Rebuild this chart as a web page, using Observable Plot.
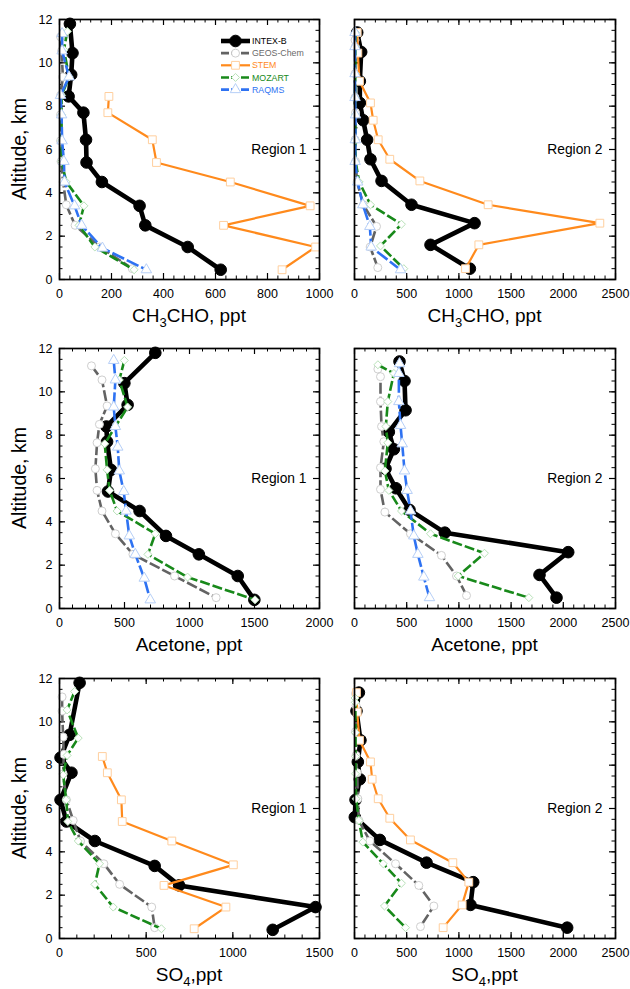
<!DOCTYPE html>
<html><head><meta charset="utf-8">
<script src="https://cdn.jsdelivr.net/npm/d3@7"></script>
<script src="https://cdn.jsdelivr.net/npm/@observablehq/plot@0.6"></script>
<style>
body{margin:0;background:#fff;}
#wrap{position:relative;width:630px;height:989px;background:#fff;font-family:"Liberation Sans",Arial,Helvetica,sans-serif;}
.panel{position:absolute;}
</style></head><body><div id="wrap"></div>
<script>
// ---- data: [altitude km, mixing ratio ppt] ----
const ch3choR1_intex = [[11.8,40],[10.45,50],[9.45,45],[8.45,35],[7.7,92],[6.45,102],[5.4,104],[4.5,163],[3.4,308],[2.5,330],[1.5,493],[0.45,620]];
const ch3choR1_geos  = [[11.2,4],[10.55,8],[9.35,13],[8.5,4],[7.6,4],[6.4,4],[5.45,6],[4.5,14],[3.45,26],[2.5,60],[1.5,155],[0.5,280]];
const ch3choR1_stem  = [[8.45,190],[7.7,186],[6.45,357],[5.4,373],[4.5,657],[3.4,964],[2.5,631],[1.5,985],[0.45,856]];
const ch3choR1_moz   = [[11.45,30],[10.6,17],[9.35,37],[8.5,8],[7.6,8],[6.4,8],[5.45,8],[4.5,26],[3.4,94],[2.5,75],[1.5,136],[0.45,287]];
const ch3choR1_raq   = [[11.35,10],[10.55,10],[9.35,37],[8.5,4],[7.6,8],[6.4,10],[5.45,17],[4.5,19],[3.4,58],[2.5,85],[1.45,165],[0.45,334]];

const ch3choR2_intex = [[11.4,26],[10.5,64],[9.15,51],[8.15,51],[7.35,83],[6.45,121],[5.55,153],[4.55,259],[3.45,546],[2.6,1150],[1.6,728],[0.5,1105]];
const ch3choR2_geos  = [[11.05,5],[10.75,8],[9.5,5],[8.4,5],[7.7,10],[6.45,6],[5.45,10],[4.5,25],[3.45,85],[2.45,211],[1.5,150],[0.55,223]];
const ch3choR2_stem  = [[11.4,26],[10.45,32],[9.15,48],[8.15,153],[7.35,179],[6.45,227],[5.55,338],[4.55,626],[3.45,1280],[2.6,2350],[1.6,1191],[0.5,1063]];
const ch3choR2_moz   = [[11.4,10],[10.75,8],[9.5,8],[8.4,5],[7.6,8],[6.45,8],[5.45,10],[4.5,45],[3.45,153],[2.55,450],[1.55,249],[0.5,472]];
const ch3choR2_raq   = [[11.4,5],[10.75,5],[9.5,5],[8.4,5],[7.6,10],[6.45,8],[5.45,6],[4.5,30],[3.45,80],[2.45,147],[1.5,160],[0.45,441]];

const acetR1_intex = [[11.8,737],[10.4,499],[9.4,524],[8.4,361],[7.7,366],[6.4,396],[5.4,373],[4.5,616],[3.35,819],[2.5,1072],[1.5,1371],[0.4,1499]];
const acetR1_geos  = [[11.2,246],[10.55,327],[9.35,366],[8.5,307],[7.65,289],[6.45,276],[5.45,289],[4.5,327],[3.45,430],[2.5,565],[1.5,885],[0.5,1205]];
const acetR1_moz   = [[11.45,499],[10.55,460],[9.3,524],[8.4,430],[7.6,348],[6.4,366],[5.45,386],[4.5,443],[3.45,737],[2.5,680],[1.45,985],[0.4,1504]];
const acetR1_raq   = [[11.45,417],[10.55,430],[9.3,417],[8.4,430],[7.45,448],[6.35,460],[5.4,494],[4.5,512],[3.35,537],[2.5,583],[1.4,652],[0.4,698]];

const acetR2_intex = [[11.4,431],[10.5,479],[9.15,489],[8.15,329],[7.35,377],[6.45,297],[5.55,396],[4.55,527],[3.5,865],[2.6,2047],[1.55,1772],[0.5,1935]];
const acetR2_geos  = [[11.05,224],[10.7,249],[9.55,249],[8.4,259],[7.7,281],[6.5,249],[5.5,249],[4.45,291],[3.45,536],[2.45,833],[1.5,977],[0.6,1073]];
const acetR2_moz   = [[11.25,224],[10.85,377],[9.55,319],[8.4,300],[7.65,319],[6.35,291],[5.45,329],[4.5,450],[3.45,728],[2.55,1245],[1.5,993],[0.5,1670]];
const acetR2_raq   = [[11.3,431],[10.85,425],[9.55,425],[8.45,441],[7.6,457],[6.35,479],[5.45,504],[4.5,536],[3.35,568],[2.5,607],[1.45,664],[0.5,718]];

const so4R1_intex = [[11.8,116],[9.4,58],[8.35,6],[7.65,69],[6.4,6],[5.4,40],[4.5,204],[3.35,549],[2.45,690],[1.45,1477],[0.4,1230]];
const so4R1_geos  = [[11.15,15],[10.5,15],[9.3,21],[8.5,25],[7.6,21],[6.4,40],[5.45,79],[4.5,121],[3.45,256],[2.5,347],[1.45,532],[0.5,549]];
const so4R1_stem  = [[8.4,247],[7.65,276],[6.4,357],[5.4,362],[4.5,648],[3.4,1003],[2.45,603],[1.45,960],[0.45,777]];
const so4R1_moz   = [[11.4,87],[10.55,44],[9.25,108],[8.45,44],[7.55,21],[6.4,39],[5.4,48],[4.5,108],[3.45,231],[2.5,204],[1.45,310],[0.45,588]];

const so4R2_intex = [[11.35,42],[10.5,19],[9.15,57],[8.15,32],[7.35,51],[6.4,10],[5.6,3],[4.55,243],[3.5,690],[2.6,1137],[1.55,1111],[0.5,2037]];
const so4R2_geos  = [[11.3,10],[10.75,15],[9.55,10],[8.45,15],[7.65,26],[6.45,32],[5.45,42],[4.5,147],[3.45,393],[2.45,616],[1.5,760],[0.55,632]];
const so4R2_stem  = [[11.35,19],[10.45,26],[9.15,48],[8.15,153],[7.35,169],[6.45,227],[5.55,338],[4.55,536],[3.5,942],[2.6,1095],[1.55,1031],[0.5,849]];
const so4R2_moz   = [[11.1,5],[10.9,8],[9.5,10],[8.4,10],[7.6,10],[6.45,15],[5.45,42],[4.45,80],[3.45,275],[2.55,450],[1.5,287],[0.5,489]];

const seriesNames = ["INTEX-B","GEOS-Chem","STEM","MOZART","RAQMS"];
const xMaxes   = [1000, 2500, 2000, 2500, 1500, 2500];
const xMajors  = [200, 500, 500, 500, 500, 500];
const regions  = ["Region 1","Region 2"];
const speciesLabels = [["CH","3","CHO, ppt"],["Acetone, ppt"],["SO","4",",ppt"]];
const yTicks = [0,2,4,6,8,10,12];

// ---- styles ----
const styles = {
  "INTEX-B":  {stroke:"#000000", width:4.6, dash:null,  symbol:"circle",  r:5.8, fill:"#000", mstroke:"#000", tcolor:"#000"},
  "GEOS-Chem":{stroke:"#636363", width:2.6, dash:"11,3", symbol:"circle",  r:4.0, fill:"#fff", mstroke:"#cfcfcf", tcolor:"#6a6a6a"},
  "STEM":     {stroke:"#ff8a1c", width:2.2, dash:null,  symbol:"square",  r:4.4, fill:"#fff", mstroke:"#ffcf9e", tcolor:"#ff8a1c"},
  "MOZART":   {stroke:"#18891a", width:2.6, dash:"10,3", symbol:"diamond2",r:3.6, fill:"#fff", mstroke:"#b9e2b9", tcolor:"#18891a"},
  "RAQMS":    {stroke:"#2e72f2", width:2.6, dash:"13,3", symbol:"triangle",r:3.9, fill:"#fff", mstroke:"#b6cff7", tcolor:"#2e72f2"}
};

const panels = [
  {row:0,col:0,data:{"INTEX-B":ch3choR1_intex,"GEOS-Chem":ch3choR1_geos,"STEM":ch3choR1_stem,"MOZART":ch3choR1_moz,"RAQMS":ch3choR1_raq}},
  {row:0,col:1,data:{"INTEX-B":ch3choR2_intex,"GEOS-Chem":ch3choR2_geos,"STEM":ch3choR2_stem,"MOZART":ch3choR2_moz,"RAQMS":ch3choR2_raq}},
  {row:1,col:0,data:{"INTEX-B":acetR1_intex,"GEOS-Chem":acetR1_geos,"MOZART":acetR1_moz,"RAQMS":acetR1_raq}},
  {row:1,col:1,data:{"INTEX-B":acetR2_intex,"GEOS-Chem":acetR2_geos,"MOZART":acetR2_moz,"RAQMS":acetR2_raq}},
  {row:2,col:0,data:{"INTEX-B":so4R1_intex,"GEOS-Chem":so4R1_geos,"STEM":so4R1_stem,"MOZART":so4R1_moz}},
  {row:2,col:1,data:{"INTEX-B":so4R2_intex,"GEOS-Chem":so4R2_geos,"STEM":so4R2_stem,"MOZART":so4R2_moz}}
];

const FONT = "'Liberation Sans', Arial, Helvetica, sans-serif";
const rowTops = [0, 329, 659];
const wrap = document.getElementById("wrap");

panels.forEach((p, i) => {
  const left = p.col === 0;
  const W = left ? 330 : 300, H = 331;
  const mL = left ? 59 : 24, mR = left ? 11 : 15, mT = 19, mB = 52;
  const fw = W - mL - mR, fh = H - mT - mB;
  const xMax = xMaxes[i], xMajor = xMajors[i];
  const majorX = d3.range(0, xMax + 1e-6, xMajor);
  const minorX = d3.range(0, xMax + 1e-6, xMajor / 5);
  const minorY = d3.range(0, 12 + 1e-6, 0.5);
  const marks = [];
  const MAJ = 6, MIN = 3.5;
  // inward ticks on all four sides
  marks.push(Plot.ruleX(minorX, {x: d => d, insetTop: fh - MIN, stroke: "#000", strokeWidth: 1}));
  marks.push(Plot.ruleX(majorX, {x: d => d, insetTop: fh - MAJ, stroke: "#000", strokeWidth: 1.2}));
  marks.push(Plot.ruleX(minorX, {x: d => d, insetBottom: fh - MIN, stroke: "#000", strokeWidth: 1}));
  marks.push(Plot.ruleX(majorX, {x: d => d, insetBottom: fh - MAJ, stroke: "#000", strokeWidth: 1.2}));
  marks.push(Plot.ruleY(minorY, {y: d => d, insetRight: fw - MIN, stroke: "#000", strokeWidth: 1}));
  marks.push(Plot.ruleY(yTicks, {y: d => d, insetRight: fw - MAJ, stroke: "#000", strokeWidth: 1.2}));
  marks.push(Plot.ruleY(minorY, {y: d => d, insetLeft: fw - MIN, stroke: "#000", strokeWidth: 1}));
  marks.push(Plot.ruleY(yTicks, {y: d => d, insetLeft: fw - MAJ, stroke: "#000", strokeWidth: 1.2}));

  seriesNames.forEach(s => {
    const arr = p.data[s];
    if (!arr) return;
    const st = styles[s];
    marks.push(Plot.line(arr, {x: d => d[1], y: d => d[0], stroke: st.stroke, strokeWidth: st.width,
      strokeDasharray: st.dash || undefined, strokeLinejoin: "round", strokeLinecap: "butt"}));
    marks.push(Plot.dot(arr, {x: d => d[1], y: d => d[0], symbol: st.symbol, r: st.r,
      fill: st.fill, stroke: st.mstroke, strokeWidth: 1}));
  });

  marks.push(Plot.frame({stroke: "#000", strokeWidth: 1.7}));
  marks.push(Plot.axisX({ticks: majorX, tickSize: 0, tickPadding: 10, label: null, fontSize: 12.5,
    tickFormat: d => String(d), fill: "#000"}));
  if (left) marks.push(Plot.axisY({ticks: yTicks, tickSize: 0, tickPadding: 7, label: null, fontSize: 12.5,
    tickFormat: d => String(d), fill: "#000"}));
  marks.push(Plot.text([regions[p.col]], {text: d => d, frameAnchor: "right", dx: -13, textAnchor: "end",
    fontSize: 13.8, fill: "#000"}));

  const chart = Plot.plot({
    width: W, height: H, marginLeft: mL, marginRight: mR, marginTop: mT, marginBottom: mB,
    x: {domain: [0, xMax], axis: null},
    y: {domain: [0, 12], axis: null},
    style: {fontFamily: FONT, background: "transparent", overflow: "visible", color: "#000"},
    marks
  });

  const svg = d3.select(chart);
  // x-axis title with subscript
  const parts = speciesLabels[p.row];
  const xt = svg.append("text").attr("x", mL + fw / 2).attr("y", mT + fh + 43)
    .attr("text-anchor", "middle").attr("font-size", 19).attr("font-family", FONT).attr("fill", "#000");
  if (parts.length === 1) xt.text(parts[0]);
  else {
    xt.append("tspan").text(parts[0]);
    xt.append("tspan").attr("font-size", 13).attr("dy", 4.5).text(parts[1]);
    xt.append("tspan").attr("dy", -4.5).text(parts[2]);
  }
  // y-axis title
  if (left) {
    svg.append("text").attr("transform", `translate(25.5,${mT + fh / 2}) rotate(-90)`)
      .attr("text-anchor", "middle").attr("font-size", 19.5).attr("font-family", FONT).attr("fill", "#000")
      .text("Altitude, km");
  }
  // legend in first panel
  if (i === 0) {
    const lg = svg.append("g").attr("transform", "translate(221,41)");
    seriesNames.forEach((s, k) => {
      const st = styles[s];
      const y = k * 12.15;
      lg.append("line").attr("x1", 0).attr("x2", 29).attr("y1", y).attr("y2", y)
        .attr("stroke", st.stroke).attr("stroke-width", st.width)
        .attr("stroke-dasharray", st.dash ? "8,2" : null);
      const sym = {circle: d3.symbolCircle, square: d3.symbolSquare, diamond2: d3.symbolDiamond2, triangle: d3.symbolTriangle}[st.symbol];
      lg.append("path").attr("transform", `translate(14.5,${y})`)
        .attr("d", d3.symbol(sym, Math.PI * st.r * st.r)())
        .attr("fill", st.fill).attr("stroke", st.mstroke).attr("stroke-width", 1);
      lg.append("text").attr("x", 31).attr("y", y).attr("dy", "0.35em").attr("font-size", 8.8)
        .attr("text-anchor", "start")
        .attr("font-family", FONT).attr("fill", st.tcolor).text(s);
    });
  }

  const div = document.createElement("div");
  div.className = "panel";
  div.style.left = (left ? 0 : 330) + "px";
  div.style.top = rowTops[p.row] + "px";
  div.appendChild(chart);
  wrap.appendChild(div);
});
</script></body></html>
